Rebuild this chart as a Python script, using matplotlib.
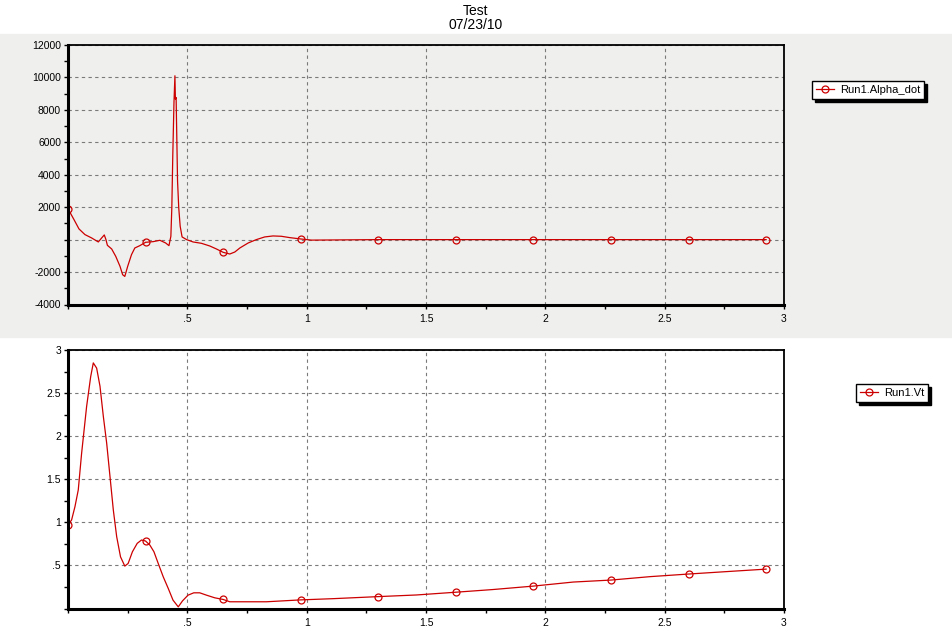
import numpy as np
import matplotlib
matplotlib.use("Agg")
import matplotlib.pyplot as plt
from matplotlib.ticker import MultipleLocator, FuncFormatter
from matplotlib.patches import Rectangle

plt.rcParams['font.family'] = ['Liberation Sans', 'DejaVu Sans']

# Run1.Alpha_dot (top panel)
t_alpha = [0, 0.025, 0.046, 0.071, 0.099, 0.127, 0.141, 0.152, 0.159, 0.165, 0.183, 0.20,
           0.218, 0.229, 0.238, 0.25, 0.266, 0.28, 0.301, 0.325, 0.357, 0.385, 0.409, 0.423,
           0.431, 0.435, 0.439, 0.444, 0.448, 0.450, 0.453, 0.456, 0.459, 0.464, 0.47, 0.478,
           0.497, 0.524, 0.559, 0.594, 0.622, 0.65, 0.678, 0.699, 0.72, 0.755, 0.789, 0.824,
           0.859, 0.894, 0.929, 0.975, 1.02, 1.3, 1.625, 1.95, 2.275, 2.6, 2.925]
alpha_dot = [1900, 1237, 660, 310, 103, -144, 103, 289, 0, -350, -577, -1030,
             -1650, -2165, -2268, -1650, -928, -515, -371, -165, -124, -41, -206, -371,
             206, 1959, 5155, 8454, 10103, 8660, 8763, 6186, 3608, 1959, 825, 165,
             0, -144, -227, -392, -577, -783, -887, -763, -515, -206, 0, 165,
             227, 206, 124, 41, -30, 0, 0, 0, 0, 0, 0]

# Run1.Vt (bottom panel)
t_vt = [0, 0.015, 0.029, 0.043, 0.057, 0.078, 0.095, 0.106, 0.12, 0.134, 0.148, 0.162,
        0.176, 0.19, 0.204, 0.22, 0.238, 0.252, 0.27, 0.29, 0.308, 0.325, 0.343, 0.36,
        0.378, 0.399, 0.42, 0.44, 0.462, 0.48, 0.503, 0.527, 0.552, 0.58, 0.615, 0.65,
        0.678, 0.831, 0.975, 1.11, 1.3, 1.46, 1.625, 1.78, 1.95, 2.117, 2.275, 2.44,
        2.6, 2.77, 2.925]
vt = [0.97, 1.027, 1.18, 1.376, 1.80, 2.345, 2.69, 2.85, 2.79, 2.58, 2.23, 1.92,
      1.53, 1.14, 0.833, 0.60, 0.492, 0.523, 0.659, 0.756, 0.795, 0.783, 0.736, 0.659,
      0.523, 0.368, 0.233, 0.097, 0.019, 0.089, 0.155, 0.182, 0.182, 0.155, 0.124, 0.105,
      0.078, 0.078, 0.1, 0.114, 0.138, 0.157, 0.189, 0.22, 0.26, 0.307, 0.33, 0.37,
      0.40, 0.43, 0.457]

marker_times = [0, 0.325, 0.65, 0.975, 1.3, 1.625, 1.95, 2.275, 2.6, 2.925]

title = "Test"
subtitle = "07/23/10"

red = '#CC0000'
grey_bg = '#EFF0EE'
W, H = 953, 636

fig = plt.figure(figsize=(W / 100, H / 100), dpi=100)
fig.patch.set_facecolor('white')
# grey band behind the top chart
fig.patches.append(Rectangle((0, 1 - 337 / H), 1, (337 - 34) / H,
                             transform=fig.transFigure, color=grey_bg, zorder=-10))

fig.text(476 / W, 1 - 11 / H, title, ha='center', va='center', fontsize=10)
fig.text(476 / W, 1 - 25 / H, subtitle, ha='center', va='center', fontsize=10)


def marks(ts):
    return [i for i, t in enumerate(ts) if any(np.isclose(t, m) for m in marker_times)]


def fmt(v, pos):
    if np.isclose(v, 0):
        return ''
    s = '%g' % v
    if s.startswith('0.'):
        s = s[1:]
    return s


def style_axes(ax, face, ymajor, yminor):
    ax.set_facecolor(face)
    ax.set_xlim(0, 3)
    ax.xaxis.set_major_locator(MultipleLocator(0.5))
    ax.xaxis.set_minor_locator(MultipleLocator(0.25))
    ax.yaxis.set_major_locator(MultipleLocator(ymajor))
    ax.yaxis.set_minor_locator(MultipleLocator(yminor))
    ax.xaxis.set_major_formatter(FuncFormatter(fmt))
    ax.yaxis.set_major_formatter(FuncFormatter(fmt))
    ax.tick_params(which='both', direction='out', length=3, width=1, labelsize=7.5,
                   pad=2, colors='black')
    ax.tick_params(axis='x', which='major', pad=4)
    ax.grid(True, which='major', color='#7a7a7a', linestyle=(0, (3, 3)), linewidth=0.8)
    ax.set_axisbelow(True)
    for side in ['left', 'bottom']:
        ax.spines[side].set_linewidth(2.2)
    for side in ['top', 'right']:
        ax.spines[side].set_linewidth(1.3)


ax1 = fig.add_axes([68 / W, 1 - 304.5 / H, (784 - 68) / W, (304.5 - 45) / H])
ax2 = fig.add_axes([68 / W, 1 - 608.5 / H, (784 - 68) / W, (608.5 - 350) / H])

style_axes(ax1, grey_bg, 2000, 1000)
ax1.set_ylim(-4000, 12000)
style_axes(ax2, 'white', 0.5, 0.25)
ax2.set_ylim(0, 3)

ax1.plot(t_alpha, alpha_dot, color=red, lw=0.9, marker='o', markevery=marks(t_alpha),
         markersize=5, markerfacecolor='none', markeredgecolor=red, markeredgewidth=0.9,
         label='Run1.Alpha_dot')
ax2.plot(t_vt, vt, color=red, lw=0.9, marker='o', markevery=marks(t_vt),
         markersize=5, markerfacecolor='none', markeredgecolor=red, markeredgewidth=0.9,
         label='Run1.Vt')

for ax, (lx, ly) in [(ax1, (812, 81)), (ax2, (856, 384))]:
    leg = ax.legend(loc='upper left', bbox_to_anchor=(lx / W, 1 - ly / H),
                    bbox_transform=fig.transFigure, borderaxespad=0, fancybox=False,
                    shadow={'color': 'black', 'alpha': 1}, framealpha=1,
                    edgecolor='black', fontsize=8, handlelength=1.6, handletextpad=0.6,
                    borderpad=0.35)
    leg.get_frame().set_linewidth(1)

fig.savefig('out.png', dpi=100)
